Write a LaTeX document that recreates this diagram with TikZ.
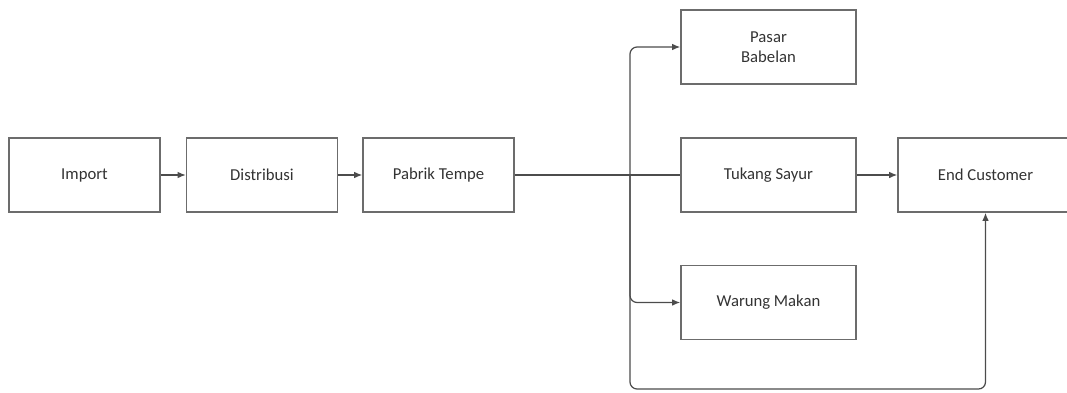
\documentclass[tikz,border=0pt]{standalone}
\usepackage{fontspec}
\setmainfont{Carlito}
\usetikzlibrary{arrows.meta}

\tikzset{
    chainbox/.style={draw=gray!85!black, line width=0.9pt, minimum height=1.48cm, align=center, text=black!80, font=\fontsize{9.5}{11.5}\selectfont},
    smallbox/.style={chainbox, minimum width=3.02cm},
    widebox/.style={chainbox, minimum width=3.5cm},
    flow/.style={draw=black!70, line width=0.7pt, -{Latex[length=1.6mm,width=1.3mm]}},
}

\begin{document}
\begin{tikzpicture}[x=0.02cm, y=-0.02cm]
        \useasboundingbox (0, 0) rectangle (1067, 392);
        \clip (0, 0) rectangle (1067, 392);
        \node[smallbox] (import) at (84.5, 175) {Import};
        \node[smallbox] (distribusi) at (262, 175) {Distribusi};
        \node[smallbox] (pabrik) at (438.5, 175) {Pabrik Tempe};
        \node[widebox] (pasar) at (768.5, 47) {Pasar\\Babelan};
        \node[widebox] (tukang) at (768.5, 175) {Tukang Sayur};
        \node[widebox] (warung) at (768.5, 302.5) {Warung Makan};
        \node[widebox] (endcust) at (985.5, 175) {End Customer};
        \coordinate (split) at (630, 175);
        \coordinate (bottom) at (630, 389);
        \draw[flow] (import) -- (distribusi);
        \draw[flow] (distribusi) -- (pabrik);
        \draw[flow, -] (pabrik) -- (tukang);
        \draw[flow] (tukang) -- (endcust);
        \draw[flow, rounded corners=4pt] (split) |- (pasar.west);
        \draw[flow, rounded corners=4pt] (split) |- (warung.west);
        \draw[flow, rounded corners=4pt] (split) -- (bottom) -| (endcust.south);
\end{tikzpicture}
\end{document}
